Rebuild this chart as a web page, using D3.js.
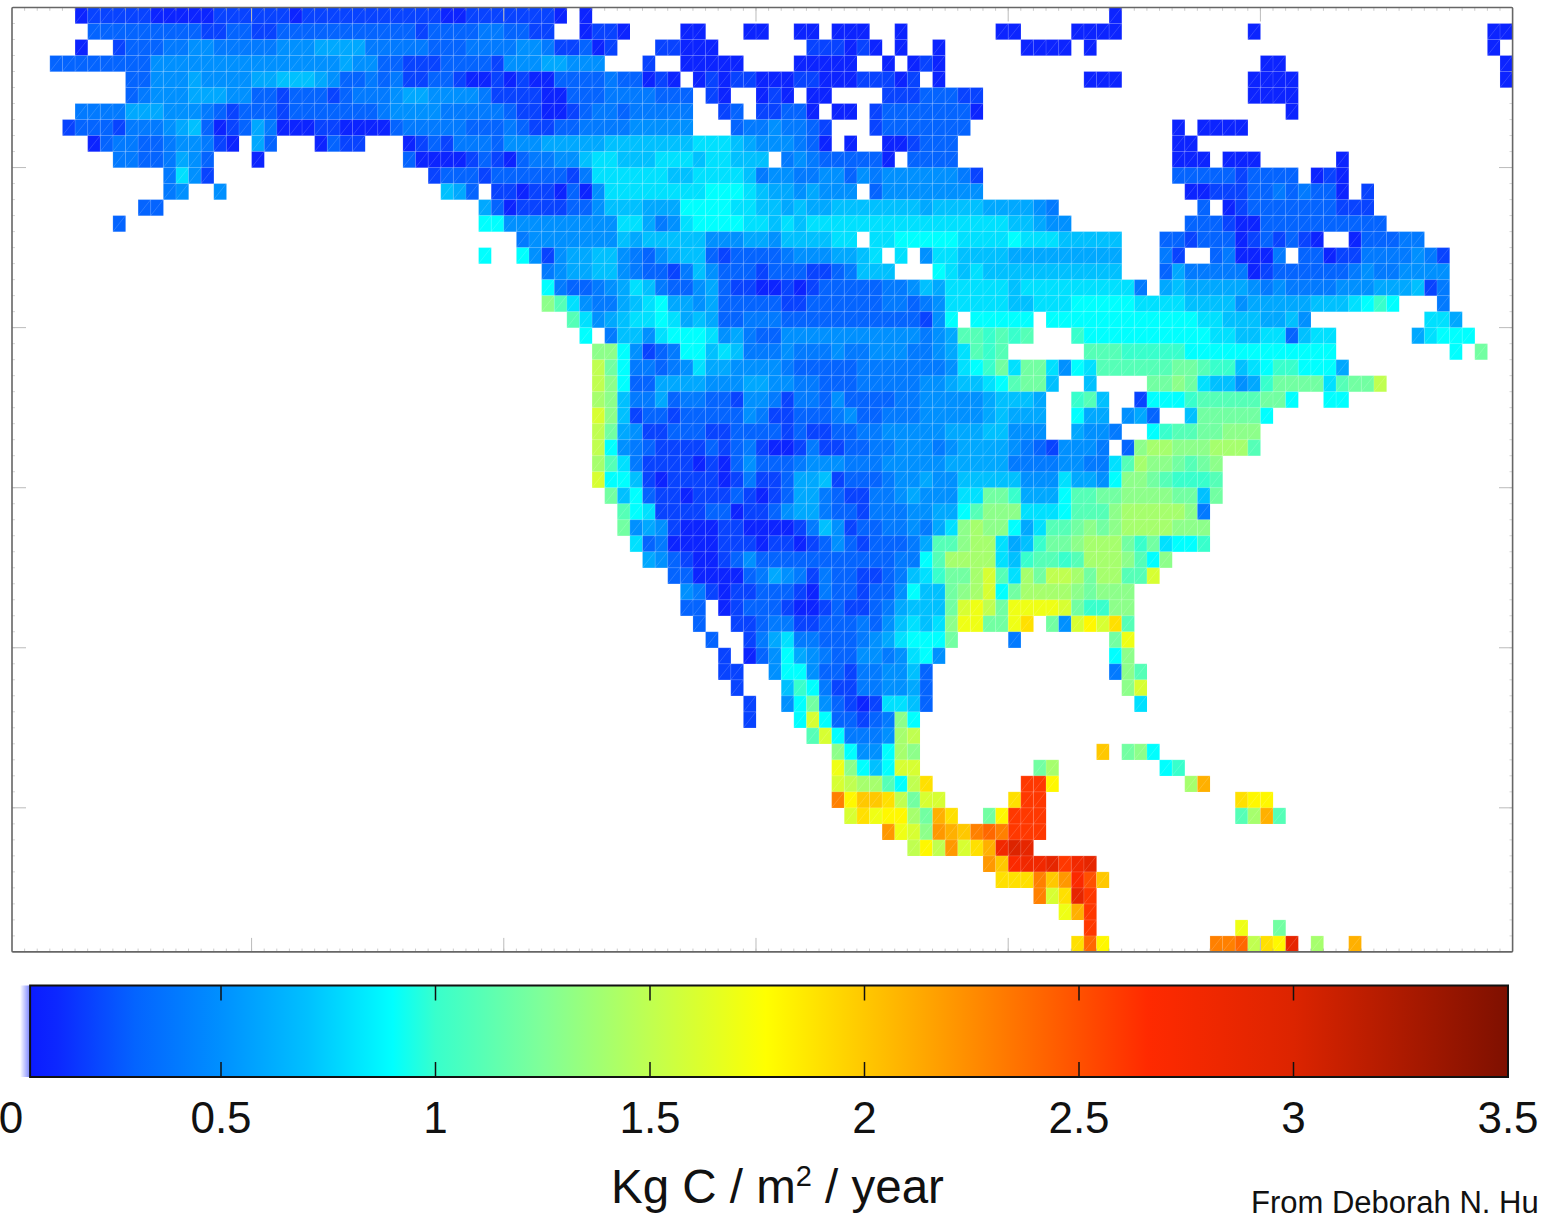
<!DOCTYPE html>
<html><head><meta charset="utf-8">
<script src="https://cdn.jsdelivr.net/npm/d3@7"></script>
<style>html,body{margin:0;padding:0;background:#fff;overflow:hidden}svg{display:block}text{font-family:"Liberation Sans",Arial,sans-serif;fill:#111}</style>
</head><body><script>
// Carbon flux per grid cell, in tenths of Kg C / m2 / year, base 36 digits.
// Each row lists runs as "startColumn:digits"; columns without a run have no data.
const gridRows = [
"5:12222 10:21111 15:12222 20:22122 25:22222 30:22221 35:12222 40:2221 45:1 87:1",
"6:33333 11:33332 16:23322 21:33333 26:33333 31:32333 36:344 39:3322 45:1221 53:11 58:11 62:11 65:111 70:1 78:11 84:1111 98:1 117:11",
"5:1 8:2 9:333 12:44 14:55 16:4444 20:4 21:5556666 28:444443 34:33444 39:4554 43:223 46:12 51:22111 63:222121 70:1 73:1 80:1111 85:1 117:1",
"3:333333 9:33 11:555555 17:5555555556 27:55 29:33 31:222 34:3333 38:2 39:55566555 50:2 53:11111 62:11111 69:1 71:121 99:11 118:1",
"9:33 11:555 14:6 15:5555 19:66 21:7776 25:5 26:33 28:4 29:3 30:4 31:22 33:33 35:2 36:11 38:2 39:1211 43:3333433 50:1 51:2 52:1 54:121221112211122212 73:1 85:111 98:1111 118:1",
"9:34 11:555 14:666 17:55 19:33 21:2 22:333 25:2 26:3 27:444 30:5 31:66 33:5555 37:4 38:2 39:22211 44:333 47:4444 51:333 55:21 59:121 63:11 69:22233322 98:1111",
"5:4444 9:666 12:555 15:4 16:3 17:2 18:333 21:2 22:33333 27:33 29:4 30:5555 34:44444 39:322112344344444 56:23 59:22331 65:11 68:2 69:3333333 76:1 101:1",
"4:2 5:333 8:2 9:444 12:5 13:67 15:3 16:12 18:3 19:6 20:4 21:111 24:22 26:111 29:1 30:3 31:44444 36:3 37:33 39:432233444455555 57:34454432 68:23333333 92:1 94:1111",
"6:134433455421 19:63 24:1322 31:12324443 39:55566666777777788876555431 66:1 69:112333 92:11",
"8:44334653 19:1 31:31111232 39:134455788777888788777 61:454333331 71:3333 92:111 96:111 105:1",
"12:4852 33:2 34:333 37:2 38:3 39:33333 44:2 45:4 46:888888 52:77 54:8888 58:7 59:4 60:55 62:44 64:55 66:3 67:5 68:4 69:555555 75:4 76:2 92:3333 96:3 97:2 98:3333 103:121",
"12:45 16:5 34:763 38:22 40:1 41:22 43:1 44:3 45:1 46:5 47:88888888 55:999 58:8 59:7 60:66 62:5 63:6 64:555 68:3 69:55555555 93:11 95:222 98:33 100:4 101:3 102:4 103:33 105:1 107:2",
"10:33 37:631 40:2222 44:33 46:5 47:777 50:666 53:9999 57:88 59:77 61:6 62:7 63:66 65:7777777 72:6 73:7777 77:6666 81:5 82:4 94:3 96:1 97:2 98:3333333 105:222",
"8:3 37:99 39:555555555 48:88 50:6 51:4 52:5 53:8 54:9999 58:88 60:7 61:8 62:7 63:8888888888888888 79:77 81:6 82:55 93:333 96:2 97:11 99:3333333333",
"40:4 41:5555555 48:7 49:6 50:77777 55:555 58:66 60:5 61:777788 68:88999998888 79:9 80:888 83:77777 91:33 93:2 94:333 97:1 98:2 99:3 100:2 101:3 102:2 103:1 106:1 107:333 110:44",
"37:9 40:95 42:25 44:66 46:77 48:5 49:4 50:3 51:5 52:6 53:77 55:3 56:2 57:3333 61:4 62:555 65:66 67:7 68:8 70:8 72:5 73:88 75:7777 79:666666666 91:42 95:341114 102:33 104:1 105:22 107:4444 111:5 112:4 113:2",
"42:45 44:66 46:77 48:5 49:4 50:33 52:2 53:4 54:7 55:5 56:333 59:2 60:333 63:22 65:3 66:4 67:777 73:9 74:8 75:7 76:8 77:77 79:777777777 91:36 93:44444 98:1 99:2 100:333333 106:4 107:5 108:44 110:5555",
"42:9 43:4 44:33 46:4 47:5 48:6 49:8 50:7 51:4 52:33 54:5 55:6 56:3 57:22 59:11 61:2 62:1 63:2 64:33333 69:44 71:5 72:7 73:6 74:88888 79:7 80:888888888 89:4 91:67 93:66666 98:5 99:4 100:5 101:4444 105:555 108:666 111:7 112:2 113:4",
"42:db 44:8 45:5 46:44 48:6 49:7 50:8 51:9 52:66 54:5 55:6 56:33333 61:22 63:333333 69:44 71:3 72:4 73:5 74:88888 79:77 81:888 84:99999 89:8888 93:7777 97:5 98:66666 103:777 106:8 107:9 108:a 109:9 113:4",
"44:b 45:8 46:5 47:6 48:7 49:88 51:9 52:8 53:6 54:7 55:6 56:33 58:444 61:33333333333 72:2 73:5 74:9 76:999 79:99 82:999999999999 94:88 96:777 99:66 101:7 102:5 112:886",
"45:9 47:4 48:77 50:5 51:8 52:999 55:8 56:5 57:6 58:4 59:33 61:55555555555 72:4 73:5 74:6 75:bb 77:a 78:b 79:a 80:b 84:a 85:9999999999 95:88 97:77 99:88 101:3 102:7 103:88 111:6 112:8 113:999",
"46:dd 48:9 49:5 50:2 51:3 52:4 53:99 55:7 56:8 57:7 58:444 61:5 62:444 65:5 66:44 68:555 71:44 73:5 74:6 75:8 76:b 77:a 78:b 85:bbb 88:aaaaa 93:999999999999 114:9 116:c",
"46:fc 48:9 49:44 51:3 52:4 53:5 54:8 55:66 57:5555 61:4 62:33333 67:4444444 74:5 75:8 76:9 77:a 78:c 79:8 80:cc 82:8 83:5 84:9 85:8 86:bbbbbb 92:cc 94:b 95:aa 97:7 98:8 99:9 100:aa 102:99 104:9 105:6",
"46:fd 48:9 49:33 51:6666 55:555 58:66 60:55 62:44 64:333 67:44444 72:55 74:6 75:77 77:8 78:9 79:b 80:cc 82:7 85:7 90:cc 92:d 93:c 94:8 95:77 97:5 98:6 99:a 100:cccc 104:8 105:b 106:cc 108:f",
"46:ed 48:7 49:44 51:6 52:3 53:44 55:33 57:2 58:55 60:4 61:2 62:44 64:3 65:5 66:3333 70:44 72:55555 77:6 78:777 81:6 84:ab 86:7 89:2 90:999 93:a 94:bbbbb 99:cc 101:9 104:99",
"46:gd 48:7 49:2 50:33 52:2 53:33333 58:5 59:4 60:22 62:333 65:4 66:5 67:33 69:444 72:55555 77:6 78:7 79:666 84:9 85:66 88:5 89:6 90:3 93:7 94:ccccc 99:9",
"46:fc 48:6 49:5 50:22 52:333 55:22 57:3333 61:2 62:3 63:22 65:33 67:44 69:55555 74:666 77:77 79:555 84:6 85:55 87:4 90:9 91:a 92:bb 94:cc 96:ddd",
"46:f9 48:5 49:4 50:3 51:2222 55:3 56:2 57:3 58:4 59:2 60:11 62:2 63:4 64:22 66:33 68:44 70:555 73:4 74:5 75:6666 79:5 80:4 81:3 82:2 83:555 86:4 88:3 89:d 90:ee 92:ddd 95:eee 98:b",
"46:eb 48:8 49:4 50:2222 54:1 55:2 56:1 57:3 58:5 59:333 62:4 63:555 66:444 69:55555 74:66666 79:4444 83:55 85:44 87:8 88:b 89:e 90:dd 92:c 93:b 94:c 95:d",
"46:g 47:99 49:7 50:2 51:1 52:2222 56:1 57:2 58:4 59:22 61:3 62:66 64:7 65:2 66:333 69:4 70:55 72:6 73:55 75:77777 80:555 83:8 84:66 86:5 87:9 88:dd 90:c 91:b 92:aaa 95:b",
"47:c 48:7 49:9 50:3 51:22 53:1 54:222 57:3 58:2 59:1 60:2 61:3 62:66 64:4 65:3 66:22 68:44 70:5 71:6 72:555 75:88 77:cc 79:a 80:666 83:9 84:bb 86:cc 88:dddd 92:cc 94:7 95:c",
"48:b 49:9 50:8 51:2222 55:33 57:1 58:22 60:3 61:5 62:66 64:4 65:33 67:2 68:444 71:55 73:66 75:9 76:b 77:ddd 80:888 83:9 84:bbb 87:d 88:eeeee 93:d 94:4",
"48:c 49:5 50:6 51:5 52:2 53:111 56:22 58:1111 62:2 63:4 64:7 65:5 66:2 67:33 69:44 71:5 72:4 73:6 74:8 75:d 76:e 77:dd 79:9 80:6 81:8 82:bb 84:c 85:d 86:c 87:d 88:eeee 92:ddd",
"49:8 50:3 51:4 52:1111 56:222 59:1 60:22 62:1 63:2 64:3 65:5 66:3 67:2 68:333 71:4 72:6 73:bb 75:d 76:ee 78:8 79:6 80:7 81:a 82:cc 84:d 85:eee 88:c 89:a 90:c 91:8 92:99 94:a",
"50:6 51:5 52:3 53:2 54:11 56:2 57:3 58:5 59:33333333333 70:44 72:9 73:b 74:eeee 78:8 79:7 80:a 81:bb 83:a 84:b 85:eee 88:d 89:b 90:9 91:d",
"52:33 54:1111 58:3 59:4 60:6 61:5 62:4 63:2 64:4 65:33 67:22 69:3 70:4 71:7 72:8 73:a 74:cc 76:e 77:g 78:b 79:8 80:e 81:c 82:ff 84:e 85:c 86:ee 88:bb 90:g",
"53:5 54:4 55:2 56:1 57:22 59:333 62:2 63:1 64:4 65:33 67:2 68:33 70:5 71:9 72:77 74:c 75:d 76:e 77:g 78:9 79:c 80:eeee 84:d 85:c 86:ddd",
"53:33 56:1 57:2 58:333 61:2 62:11 64:2 65:3 66:22 68:3 69:4 70:6 71:7 72:77 74:c 75:g 76:h 77:f 78:c 79:hhhh 83:g 84:c 85:aa 87:dd",
"54:3 57:22 59:3 60:44 62:22 64:333 67:4 68:3 69:5 70:7 71:8 72:7 73:8 74:d 75:hh 77:cc 79:h 80:j 82:c 83:5 84:g 85:i 86:g 87:j 88:b",
"55:3 58:2 59:4 60:6 61:8 62:44 64:333 67:4 68:5 69:6 70:8 71:999 74:c 79:4 87:c 88:h",
"56:2 58:1 59:3 60:5 61:9 62:6 63:5 64:4 65:33 67:55 69:4 70:5 71:8 72:9 73:5 87:9 88:d",
"56:22 60:5 61:99 63:5 64:33 66:2 67:44 69:55 71:7 72:3 87:4 88:d 89:b",
"57:2 61:7 62:a 63:9 64:4 65:22 67:44 69:55 71:6 72:3 88:d 89:g",
"58:2 61:5 62:9 63:c 64:5 65:3 66:2 67:1 68:2 69:88 71:7 72:3 89:8",
"58:2 62:9 63:g 64:9 65:33 67:2 68:3 69:4 70:d 71:9",
"63:b 64:g 65:9 66:444 69:5 70:e 71:f",
"65:d 66:9 67:55 69:9 70:e 71:d 86:k 88:c 89:d 90:9",
"65:h 66:d 67:9 68:7 69:9 70:gg 81:c 82:e 91:9 92:a",
"65:g 66:f 67:ee 69:b 70:9 71:f 72:j 80:qq 82:i 93:e 94:l",
"65:n 66:i 67:kk 69:j 70:f 71:c 72:gg 79:j 80:qq 97:j 98:ii",
"66:g 67:j 68:h 69:ii 71:e 72:c 73:l 74:j 77:c 78:i 79:qqq 97:b 98:e 99:l 100:b",
"69:m 70:h 71:g 72:d 73:m 74:l 75:k 76:n 77:o 78:n 79:qqq",
"71:f 72:i 73:f 74:m 75:g 76:j 77:l 78:s 79:u 80:t",
"77:m 78:k 79:r 80:ss 82:t 83:q 84:s 85:t",
"78:jjj 81:n 82:k 83:m 84:r 85:p 86:k",
"81:n 82:g 83:j 84:t 85:q",
"83:h 84:l 85:q",
"85:q 97:h 100:c",
"84:j 85:o 86:i 95:nn 97:o 98:f 99:j 100:i 101:t 103:e 106:l"
];
const columnCount = 119;
const rowCount = 59;

const colorValues = [0, 0.12, 0.3, 0.5, 0.7, 0.9, 1.0, 1.25, 1.5, 1.77, 2.0, 2.3, 2.66, 3.0, 3.5];
const colorStops = ["#0a10ff","#0c28ff","#0464ff","#0090ff","#00c0ff","#00ffff","#38ffcc","#80ff98","#c0ff50","#ffff00","#ffc800","#ff8000","#ff2a00","#dc2400","#7e1000"];
const barTicks = [0, 0.5, 1, 1.5, 2, 2.5, 3, 3.5];
const mapColumnTicks = [19, 39, 59, 79, 99];
const mapRowTicks = [10, 20, 30, 40, 50];
const barStart = 0.055;

const W = 1543, H = 1214;
const svg = d3.select("body").append("svg").attr("width", W).attr("height", H);

const x = d3.scaleLinear().domain([0, columnCount]).range([12, 1512.6]);
const y = d3.scaleLinear().domain([0, rowCount]).range([7.5, 951.9]);
const bx = d3.scaleLinear().domain([0, 3.5]).range([6.5, 1508]);
const color = d3.scaleLinear().domain(colorValues).range(colorStops).clamp(true);

const cells = [];
gridRows.forEach((line, r) => {
  line.split(" ").forEach(run => {
    const [start, digits] = run.split(":");
    [...digits].forEach((d, i) => {
      cells.push({ c: +start + i, r, v: parseInt(d, 36) / 10 });
    });
  });
});

const cw = x(1) - x(0), ch = y(1) - y(0);
svg.append("g").selectAll("rect").data(cells).join("rect")
  .attr("x", d => x(d.c)).attr("y", d => y(d.r))
  .attr("width", cw + 0.1).attr("height", ch + 0.1)
  .attr("fill", d => color(d.v));
svg.append("g").attr("fill", "none").attr("stroke", "#fff").attr("stroke-width", 0.7).attr("stroke-opacity", 0.22)
  .selectAll("path").data(cells).join("path")
  .attr("d", d => `M${x(d.c)},${y(d.r + 1)}L${x(d.c)},${y(d.r)}L${x(d.c + 1)},${y(d.r)}M${x(d.c)},${y(d.r + 1)}L${x(d.c + 1)},${y(d.r)}`);

const frame = svg.append("g");
const minorX = d3.range(1, columnCount), minorY = d3.range(1, rowCount);
const tickG = frame.append("g").attr("stroke", "#999").attr("stroke-width", 1).attr("fill", "none");
minorX.forEach(c => {
  tickG.append("line").attr("x1", x(c)).attr("x2", x(c)).attr("y1", y(rowCount)).attr("y2", y(rowCount) - 3.3).attr("stroke-opacity", .5);
  tickG.append("line").attr("x1", x(c)).attr("x2", x(c)).attr("y1", y(0)).attr("y2", y(0) + 3.3).attr("stroke-opacity", .5);
});
minorY.forEach(r => {
  tickG.append("line").attr("y1", y(r)).attr("y2", y(r)).attr("x1", 12).attr("x2", 15).attr("stroke-opacity", .4);
  tickG.append("line").attr("y1", y(r)).attr("y2", y(r)).attr("x1", 1512.6).attr("x2", 1509.5).attr("stroke-opacity", .4);
});
mapColumnTicks.forEach(c => {
  tickG.append("line").attr("x1", x(c)).attr("x2", x(c)).attr("y1", y(rowCount)).attr("y2", y(rowCount) - 14).attr("stroke", "#bbb");
  tickG.append("line").attr("x1", x(c)).attr("x2", x(c)).attr("y1", y(0)).attr("y2", y(0) + 14).attr("stroke", "#bbb");
});
mapRowTicks.forEach(r => {
  tickG.append("line").attr("y1", y(r)).attr("y2", y(r)).attr("x1", 12).attr("x2", 26).attr("stroke", "#bbb");
  tickG.append("line").attr("y1", y(r)).attr("y2", y(r)).attr("x1", 1512.6).attr("x2", 1499).attr("stroke", "#bbb");
});
frame.append("rect").attr("x", 12).attr("y", y(0)).attr("width", 1500.6).attr("height", y(rowCount) - y(0))
  .attr("fill", "none").attr("stroke", "#666").attr("stroke-width", 1.6).attr("rx", 1);

const defs = svg.append("defs");
const grad = defs.append("linearGradient").attr("id", "bar").attr("gradientUnits", "userSpaceOnUse")
  .attr("x1", bx(0)).attr("x2", bx(3.5)).attr("y1", 0).attr("y2", 0);
colorValues.forEach((v, i) => grad.append("stop").attr("offset", v / 3.5).attr("stop-color", colorStops[i]));
const halo = defs.append("linearGradient").attr("id", "halo");
halo.append("stop").attr("offset", 0).attr("stop-color", "#3040ff").attr("stop-opacity", 0);
halo.append("stop").attr("offset", 1).attr("stop-color", "#3040ff").attr("stop-opacity", .65);
const barY = 985.5, barH = 91.5;
svg.append("rect").attr("x", bx(barStart) - 10).attr("y", barY).attr("width", 10).attr("height", barH).attr("fill", "url(#halo)");
svg.append("rect").attr("x", bx(barStart)).attr("y", barY).attr("width", bx(3.5) - bx(barStart)).attr("height", barH).attr("fill", "url(#bar)");
const tg = svg.append("g").attr("stroke", "#111").attr("stroke-width", 1.5);
barTicks.slice(1, -1).forEach(v => {
  tg.append("line").attr("x1", bx(v)).attr("x2", bx(v)).attr("y1", barY).attr("y2", barY + 15);
  tg.append("line").attr("x1", bx(v)).attr("x2", bx(v)).attr("y1", barY + barH).attr("y2", barY + barH - 15);
});
svg.append("rect").attr("x", bx(barStart)).attr("y", barY).attr("width", bx(3.5) - bx(barStart)).attr("height", barH)
  .attr("fill", "none").attr("stroke", "#111").attr("stroke-width", 2);

svg.append("g").selectAll("text").data(barTicks).join("text")
  .attr("x", d => bx(d) + (d === 0 ? 4.5 : 0)).attr("y", 1133)
  .attr("text-anchor", "middle").attr("font-size", 44)
  .text(d => d3.format("~g")(d));

const title = svg.append("text").attr("x", 611).attr("y", 1203).attr("font-size", 47.5);
title.append("tspan").text("Kg C / m");
title.append("tspan").attr("font-size", 29).attr("dy", -17).text("2");
title.append("tspan").attr("dy", 17).text(" / year");

svg.append("text").attr("x", 1251).attr("y", 1213).attr("font-size", 31).text("From Deborah N. Hu");
</script></body></html>
